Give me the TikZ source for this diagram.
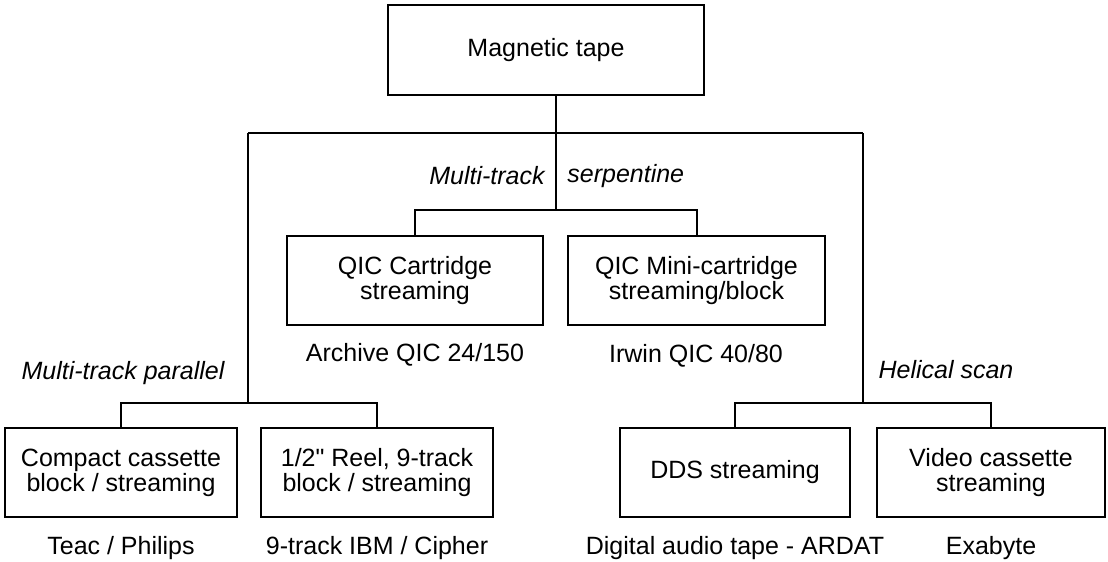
\documentclass[tikz,border=0pt]{standalone}
\usepackage{fontspec}
\setmainfont{Liberation Sans}
\newfontfamily\rawq{Liberation Sans}[Ligatures=TeXOff]
\begin{document}
\begin{tikzpicture}[x=0.5pt,y=-0.5pt]
\tikzset{
 tbox/.style={draw, line width=1pt, inner sep=0pt, minimum height=44.5pt, align=center, font=\fontsize{12.5pt}{12.5pt}\selectfont},
 lbl/.style={inner sep=0pt, font=\fontsize{12.5pt}{12.5pt}\selectfont},
 ilbl/.style={inner sep=0pt, font=\fontsize{12.5pt}{12.5pt}\selectfont\itshape},
 conn/.style={draw, line width=1pt}
}
\useasboundingbox (0,0) rectangle (1108,562);
% boxes
\node[tbox, minimum width=158pt, minimum height=45pt] (top) at (546,50) {Magnetic tape};
\node[tbox, minimum width=128pt] (qic) at (415,280.5) {QIC Cartridge\\streaming};
\node[tbox, minimum width=128.5pt] (mini) at (696.5,280.5) {QIC Mini-cartridge\\streaming/block};
\node[tbox, minimum width=116pt] (cc) at (121,472.5) {Compact cassette\\block / streaming};
\node[tbox, minimum width=116pt] (reel) at (377,472.5) {1/2{\rawq"} Reel, 9-track\\block / streaming};
\node[tbox, minimum width=115pt] (dds) at (735,472.5) {DDS streaming};
\node[tbox, minimum width=114pt] (vc) at (991,472.5) {Video cassette\\streaming};
% labels
\node[ilbl, anchor=east] (mts) at (545,176) {Multi-track};
\node[ilbl, anchor=west] (serp) at (567,176) {serpentine};
\node[lbl] (archive) at (415,355) {Archive QIC 24/150};
\node[lbl] (irwin) at (696,356) {Irwin QIC 40/80};
\node[ilbl] (mtp) at (123,373) {Multi-track parallel};
\node[ilbl] (hel) at (946,370) {Helical scan};
\node[lbl] (teac) at (121,548) {Teac / Philips};
\node[lbl] (ibm) at (377,548) {9-track IBM / Cipher};
\node[lbl] (dat) at (735,548) {Digital audio tape - ARDAT};
\node[lbl] (exa) at (991,548) {Exabyte};
% junctions
\coordinate (j0) at (556,133);
\coordinate (jl) at (248,133);
\coordinate (jr) at (863,133);
\coordinate (jq) at (556,210);
\coordinate (ll) at (248,403);
\coordinate (rr) at (863,403);
% connectors
\draw[conn] (top.south -| j0) -- (jq);
\draw[conn] (jl) -- (jr);
\draw[conn] (jl) -- (ll);
\draw[conn] (jr) -- (rr);
\draw[conn] (qic.north) -- (qic.north |- jq) -- (mini.north |- jq) -- (mini.north);
\draw[conn] (cc.north) -- (cc.north |- ll) -- (reel.north |- ll) -- (reel.north);
\draw[conn] (dds.north) -- (dds.north |- rr) -- (vc.north |- rr) -- (vc.north);
\end{tikzpicture}
\end{document}
